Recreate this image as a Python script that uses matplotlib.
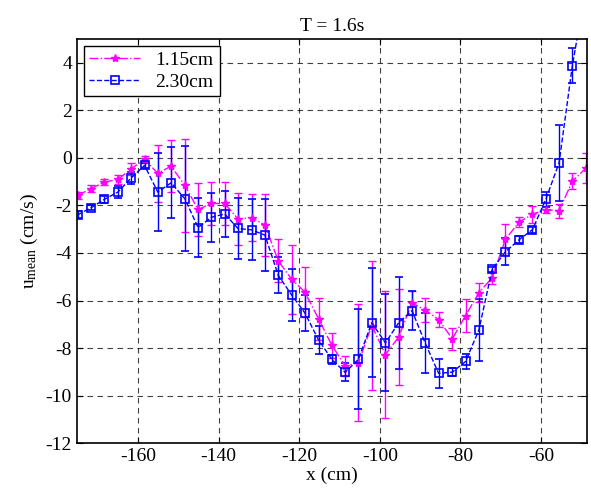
import matplotlib
matplotlib.use("Agg")
import matplotlib.pyplot as plt

plt.rcParams['font.family'] = ['Liberation Serif', 'DejaVu Serif']
plt.rcParams['mathtext.fontset'] = 'custom'
plt.rcParams['mathtext.rm'] = 'Liberation Serif'
plt.rcParams['mathtext.it'] = 'Liberation Serif:italic'
plt.rcParams['axes.unicode_minus'] = False

# Positions along the flume (cm), shared by both series
x_cm = [-175.0, -171.7, -168.4, -165.0, -161.7, -158.4, -155.1, -151.8, -148.4, -145.1,
        -141.8, -138.5, -135.2, -131.8, -128.5, -125.2, -121.9, -118.6, -115.2, -111.9,
        -108.6, -105.3, -102.0, -98.6, -95.3, -92.0, -88.7, -85.4, -82.0, -78.7,
        -75.4, -72.1, -68.8, -65.4, -62.1, -58.8, -55.5, -52.2, -48.8]

# 1.15cm series
u_115 = [-1.58, -1.30, -1.02, -0.91, -0.46, -0.07, -0.65, -0.35, -1.16, -2.17,
         -1.92, -1.92, -2.57, -2.51, -2.83, -4.33, -5.10, -5.64, -6.77, -7.88,
         -8.75, -8.61, -7.05, -8.27, -7.53, -6.10, -6.40, -6.80, -7.61, -6.63,
         -5.67, -5.04, -3.42, -2.70, -2.37, -2.18, -2.23, -0.98, -0.43]
err_115 = [0.15, 0.15, 0.12, 0.20, 0.25, 0.15, 1.20, 1.10, 1.97, 1.12,
           0.89, 0.90, 1.10, 1.00, 1.30, 0.90, 1.45, 1.05, 0.88, 0.53,
           0.42, 2.45, 2.73, 2.68, 2.00, 0.50, 0.50, 0.33, 0.45, 0.70,
           0.40, 0.25, 0.65, 0.20, 0.35, 0.15, 0.29, 0.33, 0.63]

# 2.30cm series
u_230 = [-2.40, -2.10, -1.75, -1.44, -0.84, -0.32, -1.44, -1.05, -1.72, -2.93,
         -2.50, -2.36, -2.97, -3.03, -3.25, -4.94, -5.76, -6.52, -7.66, -8.47,
         -9.02, -8.47, -6.93, -7.78, -6.93, -6.42, -7.80, -9.06, -9.01, -8.56,
         -7.23, -4.68, -3.95, -3.44, -3.02, -1.75, -0.21, 3.87, 7.20]
err_230 = [0.15, 0.10, 0.15, 0.25, 0.25, 0.10, 1.65, 1.50, 2.20, 1.24,
           1.03, 0.95, 1.30, 1.28, 1.50, 0.75, 1.08, 0.75, 0.60, 0.20,
           0.38, 2.10, 2.30, 2.04, 1.93, 0.82, 1.26, 0.62, 0.17, 0.33,
           1.30, 0.10, 0.56, 0.15, 0.12, 0.33, 1.60, 0.74, 0.80]

fig = plt.figure(figsize=(5.91, 4.92), dpi=100)
ax = fig.add_axes([0.130, 0.099, 0.863, 0.822])

e1 = ax.errorbar(x_cm, u_115, yerr=err_115, color=(1, 0, 1), linestyle='-.', linewidth=1.0,
                 marker='*', markersize=6, capsize=3, elinewidth=1.0)
e2 = ax.errorbar(x_cm, u_230, yerr=err_230, color=(0, 0, 1), linestyle='--', linewidth=1.0,
                 marker='s', markersize=6, markerfacecolor='none', markeredgewidth=1.2,
                 capsize=3, elinewidth=1.0)

ax.set_xlim(-175.2, -48.6)
ax.set_ylim(-12, 5)
ax.set_xticks([-160, -140, -120, -100, -80, -60])
ax.set_yticks([-12, -10, -8, -6, -4, -2, 0, 2, 4])
ax.tick_params(direction='in', top=True, right=True, labelsize=14, length=4)
ax.grid(True, color='k', linestyle=(0, (5, 4)), linewidth=0.8, alpha=0.75)
for s in ax.spines.values():
    s.set_linewidth(1.2)

ax.set_title('T = 1.6s', fontsize=14)
ax.set_xlabel('x (cm)', fontsize=14, labelpad=1)
ax.set_ylabel(r'u$_{\rm mean}$ (cm/s)', fontsize=14)

leg = ax.legend([e1.lines[0], e2.lines[0]], ['1.15cm', '2.30cm'],
                loc='upper left', fontsize=14, fancybox=False, framealpha=1,
                edgecolor='k', borderaxespad=0.35, handlelength=2.6,
                borderpad=0.3, labelspacing=0.2)
leg.get_frame().set_linewidth(1.0)

fig.savefig('out.png', dpi=100)
